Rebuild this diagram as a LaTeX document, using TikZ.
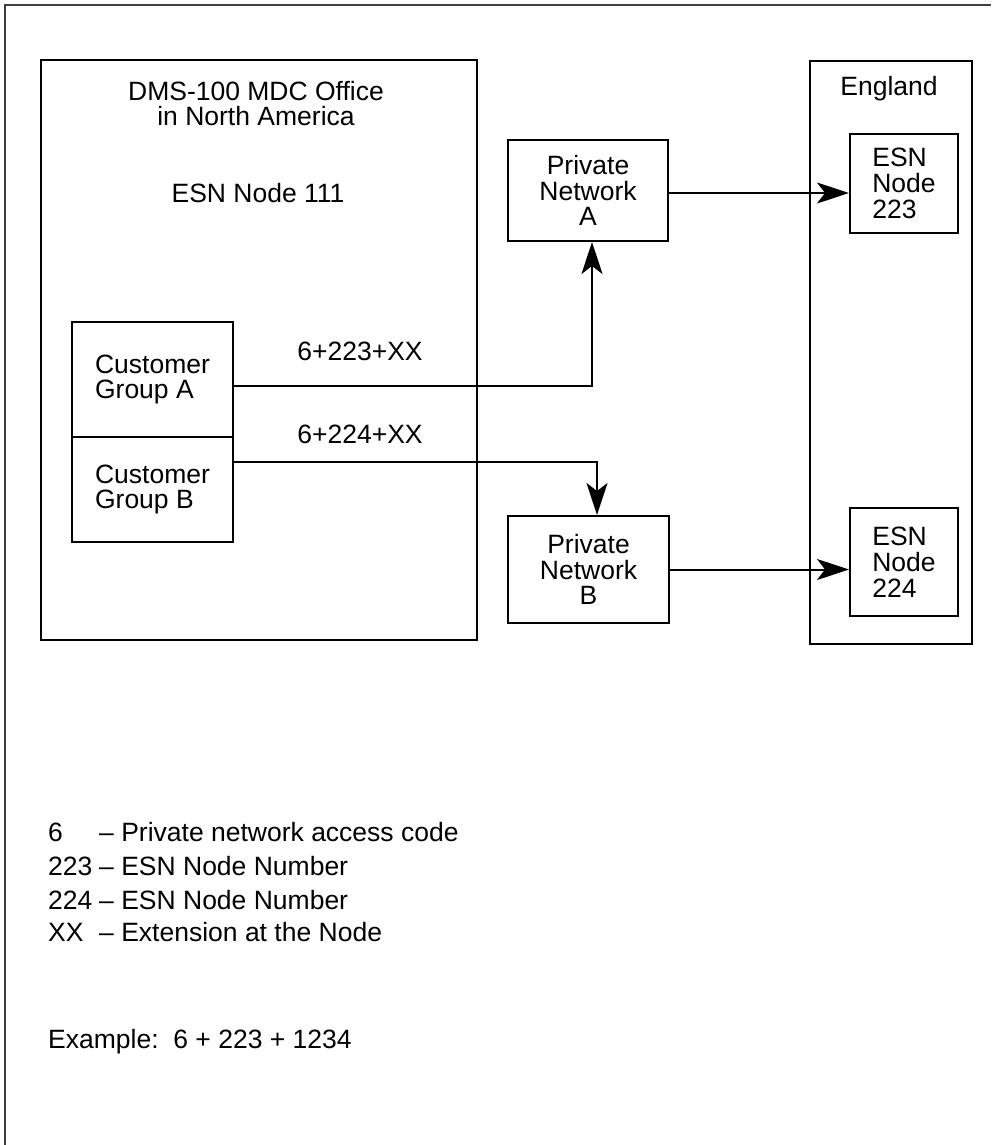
\documentclass[tikz,border=0pt]{standalone}
\usepackage{fontspec}
\setmainfont{Liberation Sans}
\usepackage{tikz}
\usetikzlibrary{arrows.meta, positioning, calc}

\tikzset{
    boxnode/.style={draw, line width=2pt, align=center, inner sep=0pt},
    plain/.style={inner sep=0pt, anchor=base},
    link/.style={line width=2pt, -{Stealth[length=32pt, width=21pt, inset=8pt]}}
}

\begin{document}
\begin{tikzpicture}[x=1pt, y=-1pt, font=\fontsize{26.5}{25.8}\selectfont]
        \useasboundingbox (0,0) rectangle (991,1145);
        % page frame
        \draw[line width=1.2pt, black!75] (5,1145) -- (5,5) -- (991,5);

        % North American office
        \node[boxnode, minimum width=436pt, minimum height=580pt] (office) at (259,350) {};
        \node[plain, align=center] (officetitle) at (256,126) {DMS-100 MDC Office\\in North America};
        \node[plain] (officenode) at (258,202) {ESN Node 111};
        \node[boxnode, align=left, minimum width=161pt, minimum height=115pt] (grpA) at (152.5,379.5) {Customer\\Group A};
        \node[boxnode, align=left, minimum width=161pt, minimum height=105pt] (grpB) at (152.5,489.5) {Customer\\Group B};

        % private networks
        \node[boxnode, minimum width=160pt, minimum height=101pt] (netA) at (588,190.5) {Private\\Network\\A};
        \node[boxnode, minimum width=161pt, minimum height=107pt] (netB) at (588.5,569.5) {Private\\Network\\B};

        % England
        \node[boxnode, minimum width=162pt, minimum height=583pt] (england) at (891,352.5) {};
        \node[plain] (englandtitle) at (889,96) {England};
        \node[boxnode, align=left, minimum width=108pt, minimum height=99pt] (esnA) at (904,183.5) {ESN\\Node\\223};
        \node[boxnode, align=left, minimum width=108pt, minimum height=108pt] (esnB) at (904,562) {ESN\\Node\\224};

        % routes
        \coordinate (bendA) at (592,386);
        \coordinate (bendB) at (597,462);
        \draw[link] (grpA.east |- bendA) -- (bendA) -- (netA.south -| bendA);
        \draw[link] (grpB.east |- bendB) -- (bendB) -- (netB.north -| bendB);
        \draw[link] (netA.east |- 0,193) -- (esnA.west |- 0,193);
        \draw[link] (netB.east) -- (netB.east -| esnB.west);
        \node[plain] (codeA) at (360,360) {6+223+XX};
        \node[plain] (codeB) at (360,443) {6+224+XX};

        % legend
        \foreach \k/\txt/\yy in {6/Private network access code/841,
                                 223/ESN Node Number/875,
                                 224/ESN Node Number/909,
                                 XX/Extension at the Node/941} {
            \node[plain, anchor=base west] (key\k) at (48,\yy) {\k};
            \node[plain, anchor=base west] (desc\k) at (99,\yy) {-- \txt};
        }
        \node[plain, anchor=base west] (example) at (48,1048) {Example:\ \ 6 + 223 + 1234};
    \end{tikzpicture}
\end{document}
